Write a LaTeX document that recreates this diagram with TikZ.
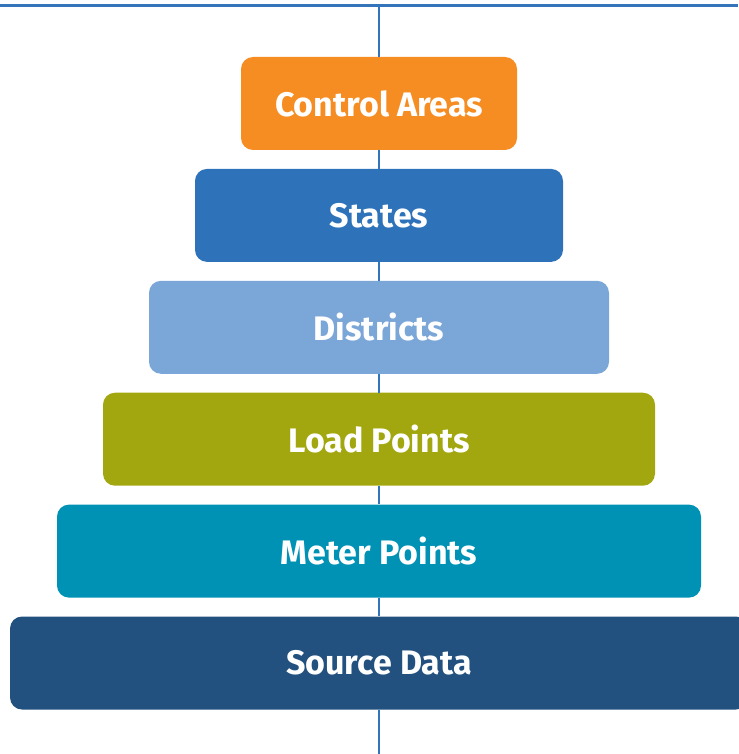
\documentclass[tikz,border=0pt]{standalone}
\usepackage{fontspec}
\setmainfont{Fira Sans}
\usetikzlibrary{positioning}
\definecolor{LineBlue}{HTML}{3474BA}
\definecolor{AreaOrange}{HTML}{F68D23}
\definecolor{StateBlue}{HTML}{2E73BA}
\definecolor{DistrictBlue}{HTML}{7BA6D8}
\definecolor{LoadOlive}{HTML}{A3A70F}
\definecolor{MeterTeal}{HTML}{0092B5}
\definecolor{SourceNavy}{HTML}{22517F}
\tikzset{
    tier/.style={rounded corners=12pt, inner sep=0pt, minimum height=93pt,
        text=white, font=\bfseries\fontsize{34}{37}\selectfont},
    spine/.style={color=LineBlue, line width=2.6pt},
}

\begin{document}
\begin{tikzpicture}[x=1pt,y=1pt,node distance=18.5pt]
    \useasboundingbox (0,0) rectangle (738,-754);
    \coordinate (TopLeft) at (0,-6);
    \coordinate (TopRight) at (738,-6);
    \coordinate (TopMid) at (379,-6);
    \coordinate (Bottom) at (379,-754);
    \draw[color=LineBlue, line width=3pt] (TopLeft) -- (TopRight);
    % pyramid of tiers, widths grow by 92pt
    \node[tier, fill=AreaOrange, minimum width=276pt] (areas) at (379,-103.5) {Control Areas};
    \node[tier, fill=StateBlue, minimum width=368pt, below=of areas] (states) {States};
    \node[tier, fill=DistrictBlue, minimum width=460pt, below=of states] (districts) {Districts};
    \node[tier, fill=LoadOlive, minimum width=552pt, below=of districts] (loads) {Load Points};
    \node[tier, fill=MeterTeal, minimum width=644pt, below=of loads] (meters) {Meter Points};
    \node[tier, fill=SourceNavy, minimum width=738pt, below=of meters] (source) {Source Data};
    % spine
    \draw[spine] (TopMid) -- (areas.north);
    \draw[spine] (areas.south) -- (states.north);
    \draw[spine] (states.south) -- (districts.north);
    \draw[spine] (districts.south) -- (loads.north);
    \draw[spine] (loads.south) -- (meters.north);
    \draw[spine] (meters.south) -- (source.north);
    \draw[spine] (source.south) -- (Bottom);
\end{tikzpicture}
\end{document}
